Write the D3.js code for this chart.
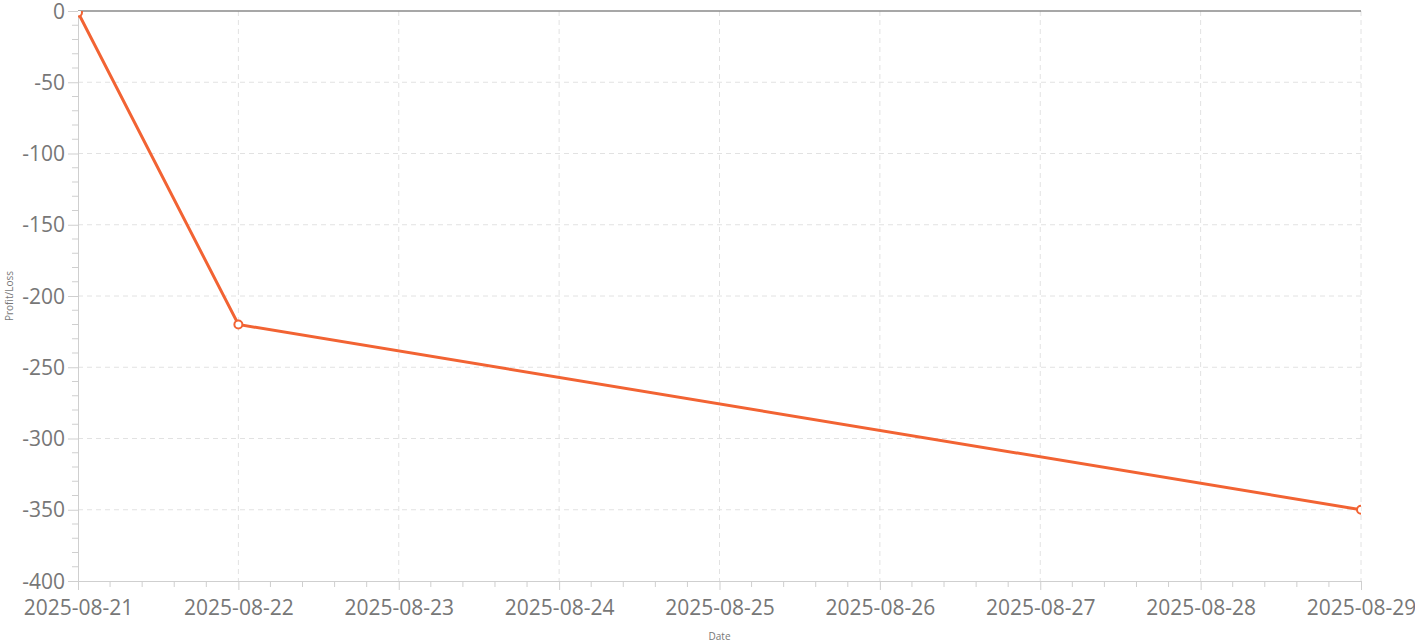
<!DOCTYPE html>
<html>
<head>
<meta charset="utf-8">
<script src="https://cdn.jsdelivr.net/npm/d3@7"></script>
<style>
  body { margin: 0; background: #fff; }
  svg { font-family: "Open Sans", "Noto Sans", sans-serif; }
</style>
</head>
<body>
<div id="chart"></div>
<script>
// Chart size and margins
const width = 1415;
const height = 644;
const margin = {top: 11, right: 54, bottom: 63, left: 78};

// Data
const dates = ["2025-08-21", "2025-08-22", "2025-08-29"];
const profit = [-1, -220, -350];
const tickDays = ["2025-08-21", "2025-08-22", "2025-08-23", "2025-08-24", "2025-08-25",
                  "2025-08-26", "2025-08-27", "2025-08-28", "2025-08-29"];
const yTicks = [0, -50, -100, -150, -200, -250, -300, -350, -400];

const parse = d3.timeParse("%Y-%m-%d");
const points = dates.map((d, i) => ({date: parse(d), value: profit[i]}));

const svg = d3.select("#chart").append("svg")
    .attr("width", width)
    .attr("height", height);

const x = d3.scaleTime()
    .domain([parse(tickDays[0]), parse(tickDays[tickDays.length - 1])])
    .range([margin.left, width - margin.right]);

const y = d3.scaleLinear()
    .domain([-400, 0])
    .range([height - margin.bottom, margin.top]);

// dashed grid lines
svg.append("g").selectAll("line.h")
    .data(yTicks.filter(v => v !== 0 && v !== -400))
    .join("line")
    .attr("x1", margin.left).attr("x2", width - margin.right)
    .attr("y1", d => y(d)).attr("y2", d => y(d))
    .style("stroke", "#e2e2e2")
    .style("stroke-dasharray", "5,4");

svg.append("g").selectAll("line.v")
    .data(tickDays.slice(1))
    .join("line")
    .attr("x1", d => x(parse(d))).attr("x2", d => x(parse(d)))
    .attr("y1", margin.top).attr("y2", height - margin.bottom)
    .style("stroke", "#e2e2e2")
    .style("stroke-dasharray", "5,4");

// zero line on top
svg.append("line")
    .attr("x1", margin.left).attr("x2", width - margin.right)
    .attr("y1", y(0)).attr("y2", y(0))
    .style("stroke", "#8a8a8a")
    .style("stroke-width", 1.3);

// minor ticks
const minorY = d3.range(-400, 1, 10).filter(v => v % 50 !== 0);
svg.append("g").selectAll("line")
    .data(minorY)
    .join("line")
    .attr("x1", margin.left - 6).attr("x2", margin.left)
    .attr("y1", d => y(d)).attr("y2", d => y(d))
    .style("stroke", "#cfcfcf");

const minorX = [];
for (let i = 0; i < tickDays.length - 1; i++) {
    const t0 = parse(tickDays[i]).getTime();
    for (let k = 1; k < 5; k++) minorX.push(new Date(t0 + k * 86400000 / 5));
}
svg.append("g").selectAll("line")
    .data(minorX)
    .join("line")
    .attr("x1", d => x(d)).attr("x2", d => x(d))
    .attr("y1", height - margin.bottom).attr("y2", height - margin.bottom + 6)
    .style("stroke", "#cfcfcf");

// axes
const yAxis = svg.append("g")
    .attr("transform", "translate(" + margin.left + ",0)")
    .call(d3.axisLeft(y).tickValues(yTicks).tickFormat(d => String(d))
        .tickSize(10).tickPadding(3));

const xAxis = svg.append("g")
    .attr("transform", "translate(0," + (height - margin.bottom) + ")")
    .call(d3.axisBottom(x).tickValues(tickDays.map(parse))
        .tickFormat(d3.timeFormat("%Y-%m-%d")).tickSize(9).tickPadding(10));

[yAxis, xAxis].forEach(a => {
    a.attr("font-family", null);
    a.select(".domain").style("stroke", "#cfcfcf");
    a.selectAll(".tick line").style("stroke", "#cfcfcf");
    a.selectAll(".tick text")
        .style("fill", "#777")
        .style("font-family", "'Open Sans', sans-serif")
        .style("font-size", "21px");
});
yAxis.selectAll(".tick text").attr("dy", "0.34em");

// axis titles
svg.append("text")
    .attr("transform", "translate(13," + ((margin.top + height - margin.bottom) / 2) + ") rotate(-90)")
    .attr("text-anchor", "middle")
    .style("font-size", "10px")
    .style("fill", "#777")
    .text("Profit/Loss");

svg.append("text")
    .attr("x", (margin.left + width - margin.right) / 2)
    .attr("y", 640)
    .attr("text-anchor", "middle")
    .style("font-size", "10px")
    .style("fill", "#777")
    .text("Date");

// clip to plot area
svg.append("clipPath").attr("id", "plot-clip")
    .append("rect")
    .attr("x", margin.left).attr("y", margin.top)
    .attr("width", width - margin.left - margin.right)
    .attr("height", height - margin.top - margin.bottom);

const lineColor = "#f26333";
const plot = svg.append("g").attr("clip-path", "url(#plot-clip)");

plot.append("path")
    .datum(points)
    .attr("d", d3.line().x(d => x(d.date)).y(d => y(d.value)))
    .style("fill", "none")
    .style("stroke", lineColor)
    .style("stroke-width", 3);

plot.selectAll("circle")
    .data(points)
    .join("circle")
    .attr("cx", d => x(d.date))
    .attr("cy", d => y(d.value))
    .attr("r", 4)
    .style("fill", "#fff")
    .style("stroke", lineColor)
    .style("stroke-width", 2);
</script>
</body>
</html>
